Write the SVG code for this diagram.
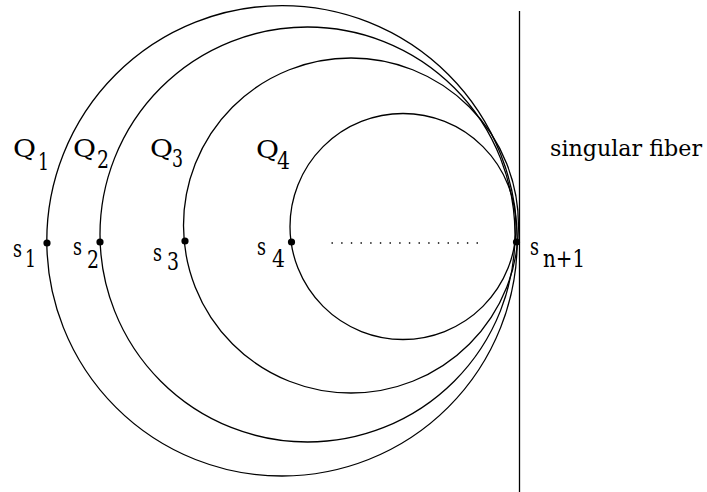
<svg xmlns="http://www.w3.org/2000/svg" width="707" height="492" viewBox="0 0 707 492">
<style>
.c{fill:none;stroke:#000;stroke-width:1.3}
.d{fill:#000}
.t{font-family:'DejaVu Serif',serif;font-size:25px;fill:#000}
</style>
<rect width="707" height="492" fill="#fff"/>
<g id="fiber"><line class="c" x1="519.5" y1="11" x2="519.5" y2="492"/></g>
<g id="Q1circle"><circle class="c" cx="282" cy="240.8" r="235.2"/></g>
<g id="Q2circle"><circle class="c" cx="307.5" cy="234.5" r="207.5"/></g>
<g id="Q3circle"><circle class="c" cx="351" cy="225.5" r="167.5"/></g>
<g id="Q4circle"><circle class="c" cx="403" cy="226.5" r="113"/></g>
<g id="dots">
<circle class="d" cx="47" cy="243" r="3.6"/>
<circle class="d" cx="100" cy="242" r="3.6"/>
<circle class="d" cx="185" cy="241" r="3.6"/>
<circle class="d" cx="291.5" cy="242" r="3.6"/>
<circle class="d" cx="516.5" cy="242" r="3.6"/>
</g>
<g id="dotted"><line x1="331.5" y1="243" x2="478" y2="243" stroke="#000" stroke-width="1.4" stroke-dasharray="1.4 8.27"/></g>
<g id="labels">
<text class="t" x="13" y="157" textLength="23" lengthAdjust="spacingAndGlyphs">Q</text>
<text class="t" x="38" y="170" textLength="11" lengthAdjust="spacingAndGlyphs">1</text>
<text class="t" x="73" y="157" textLength="23" lengthAdjust="spacingAndGlyphs">Q</text>
<text class="t" x="97" y="168" textLength="12" lengthAdjust="spacingAndGlyphs">2</text>
<text class="t" x="150" y="157" textLength="23" lengthAdjust="spacingAndGlyphs">Q</text>
<text class="t" x="172" y="167" textLength="11" lengthAdjust="spacingAndGlyphs">3</text>
<text class="t" x="256" y="158" textLength="23" lengthAdjust="spacingAndGlyphs">Q</text>
<text class="t" x="277" y="169" textLength="13" lengthAdjust="spacingAndGlyphs">4</text>
<text class="t" x="13" y="257" textLength="9" lengthAdjust="spacingAndGlyphs">s</text>
<text class="t" x="25" y="267" textLength="11" lengthAdjust="spacingAndGlyphs">1</text>
<text class="t" x="73" y="255" textLength="9" lengthAdjust="spacingAndGlyphs">s</text>
<text class="t" x="87" y="268" textLength="12" lengthAdjust="spacingAndGlyphs">2</text>
<text class="t" x="153" y="261" textLength="9" lengthAdjust="spacingAndGlyphs">s</text>
<text class="t" x="167" y="270" textLength="12" lengthAdjust="spacingAndGlyphs">3</text>
<text class="t" x="257" y="255" textLength="9" lengthAdjust="spacingAndGlyphs">s</text>
<text class="t" x="272" y="267" textLength="13" lengthAdjust="spacingAndGlyphs">4</text>
<text class="t" x="530" y="255" textLength="9" lengthAdjust="spacingAndGlyphs">s</text>
<text class="t" x="543" y="267" textLength="42" lengthAdjust="spacingAndGlyphs">n+1</text>
<text class="t" x="550" y="156" style="font-size:23px" textLength="152" lengthAdjust="spacingAndGlyphs">singular fiber</text>
</g>
</svg>
